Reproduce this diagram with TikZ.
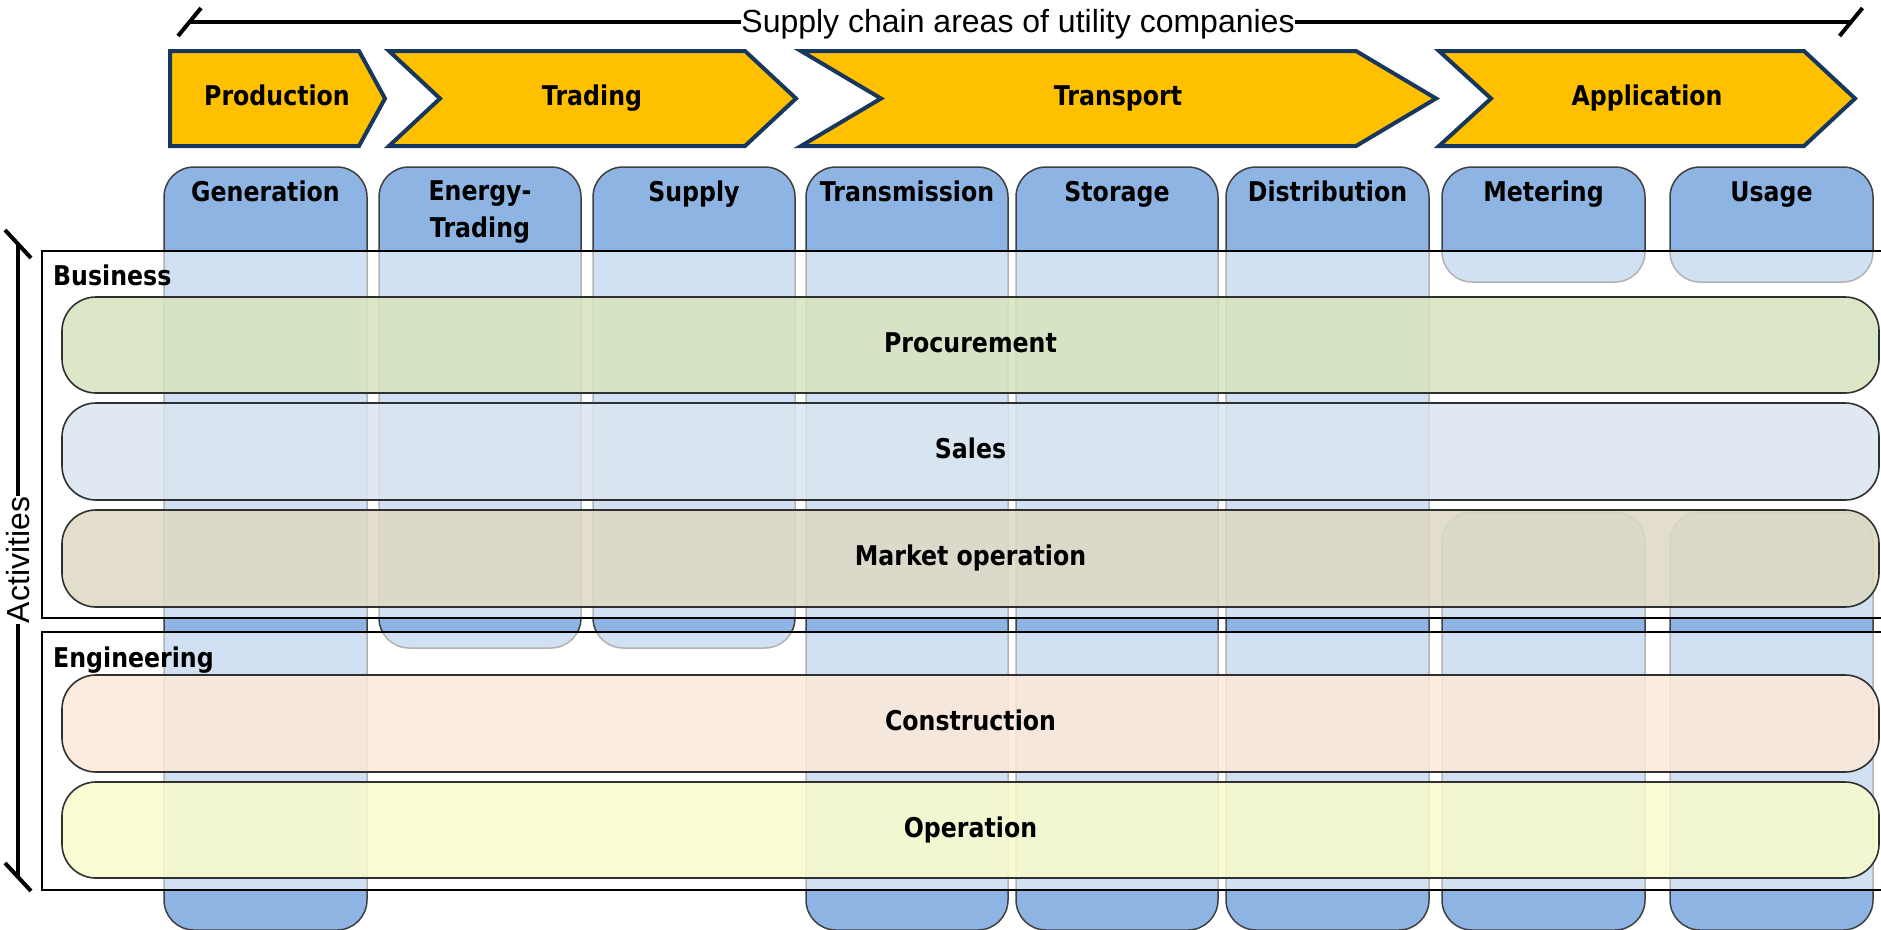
\documentclass[tikz,border=0pt]{standalone}
\usepackage{fontspec}
\setmainfont{Liberation Sans}
\newfontfamily\labfont{DejaVu Sans}[FakeStretch=0.87]
\definecolor{colblue}{RGB}{141,180,226}
\definecolor{colline}{RGB}{64,64,64}
\definecolor{chevfill}{RGB}{255,192,0}
\definecolor{chevline}{RGB}{23,55,94}
\definecolor{rowline}{RGB}{48,48,48}
\definecolor{procfill}{RGB}{215,228,189}
\definecolor{salesfill}{RGB}{219,229,241}
\definecolor{marketfill}{RGB}{221,217,195}
\definecolor{constrfill}{RGB}{253,233,217}
\definecolor{operfill}{RGB}{249,252,204}
\begin{document}
\begin{tikzpicture}[x=1pt,y=-1pt,
  col/.style={fill=colblue, draw=colline, line width=1.5pt, rounded corners=30pt},
  area/.style={fill=white, fill opacity=0.6, draw=black, line width=2pt},
  lab/.style={font=\labfont\bfseries\fontsize{27.2}{37}\selectfont, inner sep=0pt, text=black},
  rowbar/.style={lab, draw=rowline, line width=1.6pt, rounded corners=34pt, fill opacity=0.85, text opacity=1,
    minimum width=1817pt, text height=20pt, text depth=6pt},
  chev/.style={fill=chevfill, draw=chevline, line width=4pt},
  thin/.style={font=\fontsize{32}{38}\selectfont, inner sep=0.5pt},
  axis/.style={line width=4pt, draw=black}]
\useasboundingbox (0,0) rectangle (1881,929);
\clip (0,0) rectangle (1881,929);

% columns
\foreach \a/\b/\t/\d in {164/367/167/930, 379/581/167/648, 593/795/167/648,
  806/1008/167/930, 1016/1218/167/930, 1226/1429/167/930,
  1442/1645/167/282, 1442/1645/512/930, 1670/1873/167/282, 1670/1873/512/930}
  \path[col] (\a,\t) rectangle (\b,\d);

% activity areas
\path[area] (42,251) rectangle (1905,618);
\path[area] (42,632) rectangle (1905,890);
\node[lab, anchor=base west] (business) at (53,285) {Business};
\node[lab, anchor=base west] (engineering) at (53,667) {Engineering};

% rows
\node[rowbar, fill=procfill, minimum height=96pt] (proc) at (970.5,345) {Procurement};
\node[rowbar, fill=salesfill, minimum height=97pt] (sales) at (970.5,451.5) {Sales};
\node[rowbar, fill=marketfill, minimum height=97pt] (market) at (970.5,558.5) {Market operation};
\node[rowbar, fill=constrfill, minimum height=97pt] (constr) at (970.5,723.5) {Construction};
\node[rowbar, fill=operfill, minimum height=96pt] (oper) at (970.5,830) {Operation};

% column labels
\node[lab, anchor=base] (generation) at (265.5,201) {Generation};
\node[lab, anchor=base, align=center] (etrading) at (480,237) {Energy-\\Trading};
\node[lab, anchor=base] (supply) at (694,201) {Supply};
\node[lab, anchor=base] (transmission) at (907,201) {Transmission};
\node[lab, anchor=base] (storage) at (1117,201) {Storage};
\node[lab, anchor=base] (distribution) at (1327.5,201) {Distribution};
\node[lab, anchor=base] (metering) at (1543.5,201) {Metering};
\node[lab, anchor=base] (usage) at (1771.5,201) {Usage};

% chevrons
\path[chev] (170,51) -- (359,51) -- (385,98.5) -- (359,146) -- (170,146) -- cycle;
\path[chev] (389,51) -- (745,51) -- (796,98.5) -- (745,146) -- (389,146) -- (440,98.5) -- cycle;
\path[chev] (801,51) -- (1356,51) -- (1436,98.5) -- (1356,146) -- (801,146) -- (881,98.5) -- cycle;
\path[chev] (1439,51) -- (1804,51) -- (1855,98.5) -- (1804,146) -- (1439,146) -- (1491,98.5) -- cycle;
\node[lab, anchor=base] (production) at (277,105) {Production};
\node[lab, anchor=base] (trading) at (592,105) {Trading};
\node[lab, anchor=base] (transport) at (1118,105) {Transport};
\node[lab, anchor=base] (application) at (1647,105) {Application};

% top axis
\coordinate (tl) at (189.5,22);
\coordinate (tr) at (1851,22);
\node[thin, anchor=base] (sc) at (1018,32.5) {Supply chain areas of utility companies};
\draw[axis] (tl) -- (tl -| sc.west);
\draw[axis] (tr) -- (tr -| sc.east);
\draw[axis] (tl) ++(-11.5,14) -- ++(23,-28);
\draw[axis] (tr) ++(-11.5,14) -- ++(23,-28);

% left axis
\coordinate (at) at (18,244);
\coordinate (ab) at (18,877);
\node[thin, rotate=90] (act) at (18,560) {Activities};
\draw[axis] (at) -- (at |- act.east);
\draw[axis] (ab) -- (ab |- act.west);
\draw[axis] (at) ++(-13,-14) -- ++(26,28);
\draw[axis] (ab) ++(-13,-14) -- ++(26,28);
\end{tikzpicture}
\end{document}
